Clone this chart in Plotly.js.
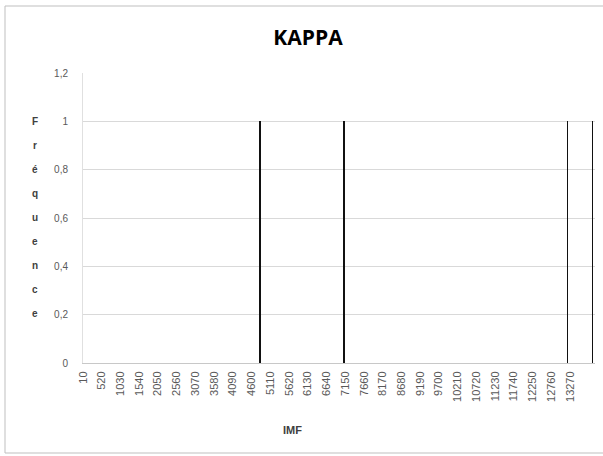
<!DOCTYPE html>
<html>
<head>
<meta charset="utf-8">
<script src="https://cdn.plot.ly/plotly-3.0.1.min.js"></script>
<style>
html,body{margin:0;padding:0;background:#fff;}
#chart{width:603px;height:456px;}
</style>
</head>
<body>
<div id="chart"></div>
<script>
// Data
var imfValues = [4830, 7120, 13200, 13880];
var frequencies = [1, 1, 1, 1];
var xTickValues = [10,520,1030,1540,2050,2560,3070,3580,4090,4600,5110,5620,6130,6640,7150,7660,8170,8680,9190,9700,10210,10720,11230,11740,12250,12760,13270];
var xTickLabels = ["10","520","1030","1540","2050","2560","3070","3580","4090","4600","5110","5620","6130","6640","7150","7660","8170","8680","9190","9700","10210","10720","11230","11740","12250","12760","13270"];
var yTickValues = [0, 0.2, 0.4, 0.6, 0.8, 1, 1.2];
var yTickLabels = ["0","0,2","0,4","0,6","0,8","1","1,2"];
var chartTitle = "KAPPA";
var xTitle = "IMF";
var yTitle = "Fréquence";

var L = 83, R = 595, T = 73, B = 363;
var W = R - L, H = B - T;
function px(x){ return (x - L) / W; }
function py(y){ return (B - y) / H; }

var trace = {
  type: 'bar',
  x: imfValues,
  y: frequencies,
  width: 42,
  marker: {color: '#111111', line: {width: 0}},
  hoverinfo: 'x+y'
};

var annotations = [];
var letters = yTitle.split('');
var letterTop = 121, letterStep = 24.1;
letters.forEach(function(ch, i){
  annotations.push({
    xref: 'paper', yref: 'paper',
    x: px(35), y: py(letterTop + i * letterStep),
    xanchor: 'center', yanchor: 'middle',
    text: ch, showarrow: false,
    font: {family: 'Liberation Sans, Arial, sans-serif', size: 10, color: '#404040', weight: 'bold'}
  });
});
annotations.push({
  xref: 'paper', yref: 'paper',
  x: px(292), y: py(430),
  xanchor: 'center', yanchor: 'middle',
  text: '<b>' + xTitle + '</b>', showarrow: false,
  font: {family: 'Liberation Sans, Arial, sans-serif', size: 11, color: '#404040'}
});

var layout = {
  width: 603, height: 456,
  margin: {l: L, r: 603 - R, t: T, b: 456 - B, pad: 0},
  paper_bgcolor: '#ffffff', plot_bgcolor: '#ffffff',
  showlegend: false,
  bargap: 0,
  title: {
    text: '<b>' + chartTitle + '</b>',
    xref: 'container', yref: 'container',
    x: 308 / 603, xanchor: 'center',
    y: 1 - 38 / 456, yanchor: 'middle',
    font: {family: 'Open Sans, Liberation Sans, sans-serif', size: 21, color: '#000000'}
  },
  xaxis: {
    range: [10, 13950],
    tickmode: 'array',
    tickvals: xTickValues,
    ticktext: xTickLabels,
    tickangle: -90,
    tickfont: {family: 'Liberation Sans, Arial, sans-serif', size: 11, color: '#595959'},
    showgrid: false,
    zeroline: false,
    showline: true, linecolor: '#c8c8c8', linewidth: 1,
    ticks: '', ticklabelstandoff: 3,
    fixedrange: true
  },
  yaxis: {
    range: [0, 1.2],
    tickmode: 'array',
    tickvals: yTickValues,
    ticktext: yTickLabels,
    tickfont: {family: 'Liberation Sans, Arial, sans-serif', size: 10, color: '#595959'},
    showgrid: true, gridcolor: '#d9d9d9', gridwidth: 1,
    zeroline: false,
    showline: true, linecolor: '#e0e0e0', linewidth: 1,
    ticks: '', ticklabelstandoff: 12,
    fixedrange: true
  },
  annotations: annotations,
  shapes: [{
    type: 'rect', xref: 'paper', yref: 'paper',
    x0: px(5), x1: px(610), y0: py(453), y1: py(6),
    line: {color: '#bfbfbf', width: 1}, fillcolor: 'rgba(0,0,0,0)', layer: 'below'
  }]
};

Plotly.newPlot('chart', [trace], layout, {staticPlot: true, displayModeBar: false});
</script>
</body>
</html>
